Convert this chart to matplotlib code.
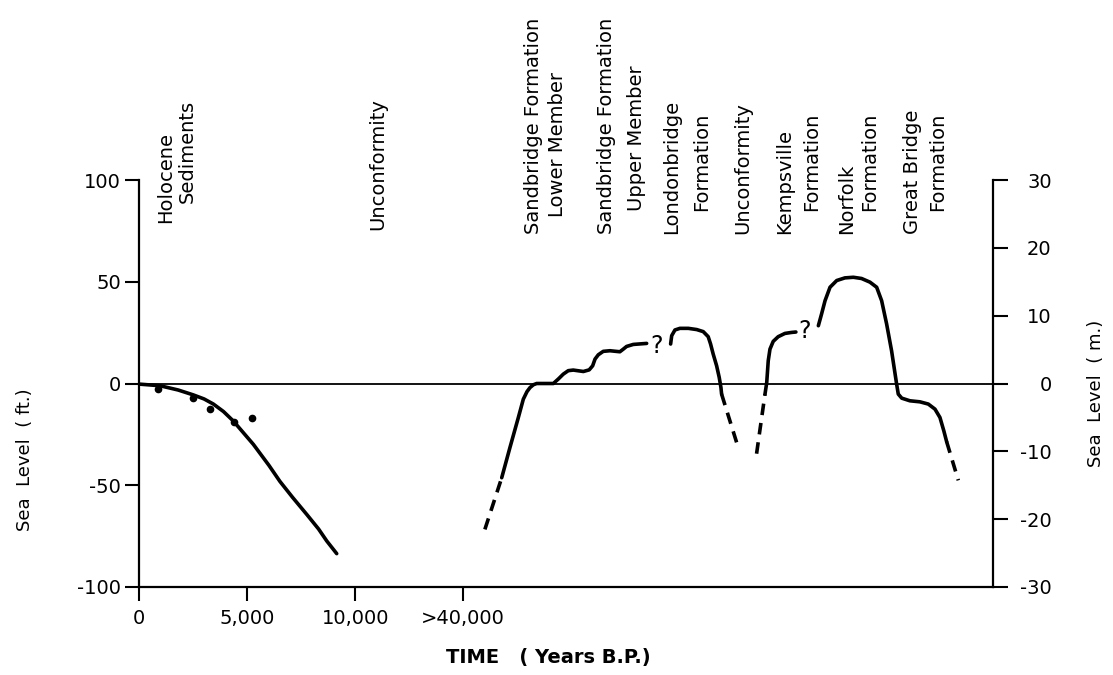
import matplotlib
matplotlib.use("Agg")
import matplotlib.pyplot as plt

# ---------------- data (x: position in thousands of years B.P. on the drawn time axis, y: feet) -------------
x_ticks = [0, 5, 10, 15]
x_tick_labels = ["0", "5,000", "10,000", ">40,000"]
ft_ticks = [100, 50, 0, -50, -100]
ft_tick_labels = ["100", "50", "0", "-50", "-100"]
m_ticks = [30, 20, 10, 0, -10, -20, -30]
m_tick_labels = ["30", "20", "10", "0", "-10", "-20", "-30"]

holocene_x = [0, 0.96, 1.8, 2.5, 3.0, 3.43, 3.9, 4.35, 5.28, 6.0, 6.51, 7.1, 7.75, 8.3, 8.68, 9.14]
holocene_y = [-0.3, -1.1, -3.2, -5.6, -7.6, -10.1, -13.8, -18.4, -29.9, -40.2, -48.1, -56.0, -64.3, -71.5, -77.4, -83.6]
dots_x = [0.88, 2.5, 3.27, 4.38, 5.23]
dots_y = [-2.8, -6.9, -12.3, -18.7, -17.0]

sandbridge_dash_x = [16.0, 16.78]
sandbridge_dash_y = [-71.7, -46.3]
sandbridge_x = [16.78, 17.16, 17.55, 17.78, 17.95, 18.09, 18.25, 18.4, 19.17, 19.4, 19.63, 19.86, 20.09,
                20.56, 20.83, 20.99, 21.1, 21.25, 21.48, 21.79, 22.25, 22.41, 22.56, 22.87, 23.49]
sandbridge_y = [-46.3, -31.5, -16.7, -7.7, -4.0, -2.0, -0.6, 0, 0, 2.2, 4.6, 6.3, 6.6,
                5.9, 6.7, 8.7, 12.0, 14.1, 15.8, 16.1, 15.6, 16.9, 18.2, 19.2, 19.7]

londonbridge_x = [24.6, 24.65, 24.8, 25.03, 25.42, 25.81, 26.11, 26.34, 26.45, 26.57, 26.73, 26.85, 26.93, 26.96]
londonbridge_y = [19.4, 23.5, 26.3, 27.1, 27.1, 26.5, 25.5, 23.0, 19.4, 14.5, 8.7, 3.0, -2.0, -5.2]
londonbridge_dash_x = [26.96, 27.66]
londonbridge_dash_y = [-5.2, -29.1]

kempsville_dash_x = [28.58, 28.97]
kempsville_dash_y = [-34.5, -5.2]
kempsville_x = [28.97, 29.05, 29.12, 29.2, 29.35, 29.58, 29.89, 30.2, 30.4]
kempsville_y = [-5.2, 0.5, 11.2, 16.9, 20.7, 23.0, 24.6, 25.1, 25.3]

norfolk_x = [31.44, 31.59, 31.75, 31.98, 32.29, 32.67, 33.06, 33.44, 33.83, 34.14, 34.37, 34.6, 34.83,
             35.06, 35.14, 35.3, 35.68, 36.14, 36.53, 36.84, 37.07, 37.25, 37.38]
norfolk_y = [28.4, 34.2, 40.7, 47.3, 50.6, 51.9, 52.2, 51.6, 49.8, 47.3, 40.7, 29.3, 16.1,
             0.0, -5.2, -7.2, -8.5, -9.0, -10.1, -12.6, -16.7, -23.3, -28.6]
norfolk_dash_x = [37.38, 37.92]
norfolk_dash_y = [-28.6, -47.6]

question_x = [23.95, 30.82]
question_y = [18.6, 26.0]

top_labels = ["Holocene", "Sediments", "Unconformity", "Sandbridge Formation", "Lower Member",
              "Sandbridge Formation", "Upper Member", "Londonbridge", "Formation", "Unconformity",
              "Kempsville", "Formation", "Norfolk", "Formation", "Great Bridge", "Formation"]
top_label_x = [1.22, 2.24, 11.05, 18.23, 19.38, 21.65, 23.04, 24.66, 26.05, 27.95,
               29.9, 31.15, 32.76, 33.83, 35.78, 36.98]
top_label_y = [78.7, 88.5, 75.2, 73.7, 81.6, 73.7, 85.0, 73.7, 85.0, 73.7,
               73.7, 85.0, 73.7, 85.0, 73.7, 85.0]

# ---------------- figure ----------------
plt.rcParams['font.family'] = ['DejaVu Sans']
W, H = 1113, 675
fig = plt.figure(figsize=(W / 100, H / 100), dpi=100)
left, right, top, bottom = 139.3, 993.3, 180, 587
ax = fig.add_axes([left / W, (H - bottom) / H, (right - left) / W, (bottom - top) / H])
ax.set_xlim(0, 39.54)
ax.set_ylim(-100, 100)

lw = 2.6
dash = (0, (3.2, 2.2))
ax.axhline(0, color='k', lw=1.3, zorder=1)
ax.plot(holocene_x, holocene_y, color='k', lw=lw, solid_capstyle='round', solid_joinstyle='round')
ax.plot(dots_x, dots_y, 'o', color='k', ms=4.5)
ax.plot(sandbridge_dash_x, sandbridge_dash_y, color='k', lw=lw, linestyle=dash)
ax.plot(sandbridge_x, sandbridge_y, color='k', lw=lw, solid_capstyle='round', solid_joinstyle='round')
ax.plot(londonbridge_x, londonbridge_y, color='k', lw=lw, solid_capstyle='round', solid_joinstyle='round')
ax.plot(londonbridge_dash_x, londonbridge_dash_y, color='k', lw=lw, linestyle=dash)
ax.plot(kempsville_dash_x, kempsville_dash_y, color='k', lw=lw, linestyle=dash)
ax.plot(kempsville_x, kempsville_y, color='k', lw=lw, solid_capstyle='round', solid_joinstyle='round')
ax.plot(norfolk_x, norfolk_y, color='k', lw=lw, solid_capstyle='round', solid_joinstyle='round')
ax.plot(norfolk_dash_x, norfolk_dash_y, color='k', lw=lw, linestyle=dash)
for qx, qy in zip(question_x, question_y):
    ax.text(qx, qy, "?", fontsize=17, ha='center', va='center')

for lab, lx, ly in zip(top_labels, top_label_x, top_label_y):
    ax.text(lx, ly, lab, rotation=90, ha='center', va='bottom', fontsize=14, clip_on=False)

# axes styling
for s in ['top', 'right']:
    ax.spines[s].set_visible(False)
ax.spines['left'].set_linewidth(1.6)
ax.spines['bottom'].set_linewidth(1.6)
ax.set_xticks(x_ticks)
ax.set_xticklabels(x_tick_labels)
ax.set_yticks(ft_ticks)
ax.set_yticklabels(ft_tick_labels)
ax.tick_params(axis='both', direction='out', length=10, width=1.5, labelsize=14)
ax.tick_params(axis='y', pad=3)
ax.tick_params(axis='x', pad=6)

ax2 = ax.twinx()
ax2.set_ylim(-30, 30)
for s in ['top', 'left', 'bottom']:
    ax2.spines[s].set_visible(False)
ax2.spines['right'].set_linewidth(1.6)
ax2.set_yticks(m_ticks)
ax2.set_yticklabels(m_tick_labels)
ax2.tick_params(axis='y', direction='out', length=11, width=1.5, labelsize=14, pad=31)
for t in ax2.get_yticklabels():
    t.set_ha('right')

fig.text(25 / W, 1 - 460 / H, "Sea  Level  ( ft.)", rotation=90, ha='center', va='center', fontsize=13)
fig.text(1096 / W, 1 - 393 / H, "Sea  Level  ( m.)", rotation=90, ha='center', va='center', fontsize=13)
fig.text(548 / W, 1 - 657 / H, "TIME   ( Years B.P.)", ha='center', va='center', fontsize=14, fontweight='bold')

fig.savefig("out.png", dpi=100)
